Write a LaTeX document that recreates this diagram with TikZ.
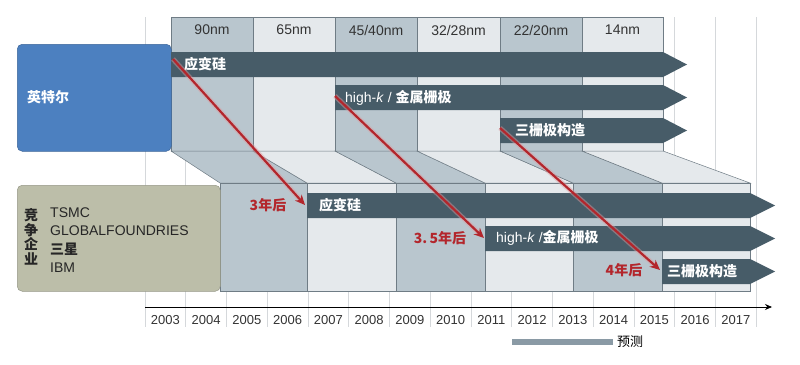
\documentclass[tikz,border=0pt]{standalone}
\usepackage{fontspec}
\setmainfont{Liberation Sans}
\newfontfamily\cjk{Noto Sans CJK SC}
\usetikzlibrary{arrows.meta}
\definecolor{intelblue}{HTML}{4C80C0}
\definecolor{rivalolive}{HTML}{BCBEA9}
\definecolor{coldark}{HTML}{B9C6CE}
\definecolor{collight}{HTML}{E5E9EC}
\definecolor{colline}{HTML}{6F7C85}
\definecolor{barslate}{HTML}{475C68}
\definecolor{lagred}{HTML}{B3262C}
\definecolor{gridgray}{HTML}{D5D8DB}
\definecolor{legendgray}{HTML}{8A9AA5}
\tikzset{
  colface/.style={fill=#1, draw=colline, line width=0.5pt},
  gridline/.style={draw=gridgray, line width=0.6pt},
  genlabel/.style={font=\fontsize{14}{16}\selectfont, text=black!80, inner sep=0pt},
  yearlabel/.style={font=\fontsize{13}{15}\selectfont, text=black!80, inner sep=0pt},
  bartext/.style={font=\cjk\bfseries\fontsize{14}{16}\selectfont, text=white, inner sep=0pt, anchor=west},
  lagtext/.style={font=\cjk\bfseries\fontsize{14}{16}\selectfont, text=lagred, inner sep=0pt},
  lagarrow/.style={draw=lagred, line width=2.2pt, -{Stealth[length=10pt,width=9pt]}},
  lagglow/.style={draw=lagred!45, line width=5pt, opacity=0.45, shorten >=8pt},
  firmbox/.style={rounded corners=5pt, draw=#1!80!black, fill=#1, line width=0.5pt,
    anchor=north west, inner sep=0pt},
}
% slate bar with pointed end: x start, y top, x end of body, x of tip
\newcommand\techbar[4]{%
  \fill[barslate] (#1,#2) -- (#3,#2) -- (#4,#2+12.5) -- (#3,#2+25) -- (#1,#2+25) -- cycle;}

\begin{document}
\begin{tikzpicture}[x=1pt, y=-1pt]
  \useasboundingbox (0,0) rectangle (800,364);

  % year grid
  \foreach \k in {0,...,15}
    \draw[gridline] ({145+40.75*\k},17) -- ({145+40.75*\k},327);

  % generation columns, fold and shifted columns
  \foreach \xa/\xb/\la/\lb/\c in {171/253/220/307/coldark, 253/335/307/396/collight,
      335/417/396/485/coldark, 417/500/485/573/collight, 500/582/573/662/coldark,
      582/663/662/750/collight}
  {
    \draw[colface=\c] (\xa,17) rectangle (\xb,151);
    \draw[colface=\c] (\xa,151) -- (\xb,151) -- (\lb,183) -- (\la,183) -- cycle;
    \draw[colface=\c] (\la,183) rectangle (\lb,291);
  }
  \foreach \xa/\xb/\t [count=\k] in {171/253/90nm, 253/335/65nm, 335/417/{45/40nm},
      417/500/{32/28nm}, 500/582/{22/20nm}, 582/663/14nm}
    \node[genlabel] (gen\k) at ({(\xa+\xb)/2},30) {\t};

  % firms
  \node[firmbox=intelblue, minimum width=154pt, minimum height=107pt] (intel) at (17,44) {};
  \node[font=\cjk\bfseries\fontsize{14}{16}\selectfont, text=white, anchor=west, inner sep=0pt]
    (intelname) at (27,97.5) {英特尔};
  \node[firmbox=rivalolive, minimum width=203pt, minimum height=106pt] (rivals) at (17,185) {};
  \node[font=\cjk\bfseries\fontsize{14}{14.5}\selectfont, text=black!85, align=center, inner sep=0pt]
    (rivaltitle) at (31,237) {竞\\争\\企\\业};
  \node[font=\fontsize{14}{18.5}\selectfont, text=black!85, align=left, anchor=west, inner sep=0pt]
    (rivallist) at (50,240) {TSMC\\GLOBALFOUNDRIES\\{\cjk\bfseries 三星}\\IBM};

  % technology bars
  \techbar{171}{52}{663}{687}
  \techbar{335}{85}{663}{687}
  \techbar{500}{118}{663}{687}
  \techbar{307}{193}{750}{775}
  \techbar{485}{226}{750}{775}
  \techbar{662}{259}{750}{775}
  \node[bartext] (strainI) at (184,64.5) {应变硅};
  \node[bartext] (hkmgI) at (345,97.5) {{\normalfont high-\textit{k} /\ }金属栅极};
  \node[bartext] (trigateI) at (515,130.5) {三栅极构造};
  \node[bartext] (strainR) at (319,205) {应变硅};
  \node[bartext] (hkmgR) at (496,238) {{\normalfont high-\textit{k} /}金属栅极};
  \node[bartext] (trigateR) at (667,271) {三栅极构造};

  % lag arrows
  \coordinate (lagAs) at (173,59);
  \coordinate (lagAe) at (305,205);
  \coordinate (lagBs) at (335,96);
  \coordinate (lagBe) at (484,238);
  \coordinate (lagCs) at (500,128);
  \coordinate (lagCe) at (660,270);
  \foreach \p in {A,B,C} {
    \draw[lagglow] (lag\p s) -- (lag\p e);
    \draw[lagarrow] (lag\p s) -- (lag\p e);
  }
  \node[lagtext] (lagA) at (268,205) {3年后};
  \node[lagtext] (lagB) at (440,238) {3.\,5年后};
  \node[lagtext] (lagC) at (624,270) {4年后};

  % time axis
  \coordinate (axisS) at (145,307);
  \coordinate (axisE) at (772,307);
  \draw[line width=0.8pt, -{Stealth[length=7pt,width=6pt]}] (axisS) -- (axisE);
  \foreach \y [count=\k from 0] in {2003,...,2017}
    \node[yearlabel] (year\y) at ({145+40.75*(\k+0.5)},320) {\y};

  % legend
  \fill[legendgray] (512,339) rectangle (613,345);
  \node[font=\cjk\fontsize{13}{15}\selectfont, anchor=west, inner sep=0pt] (forecast) at (617,342) {预测};
\end{tikzpicture}
\end{document}
